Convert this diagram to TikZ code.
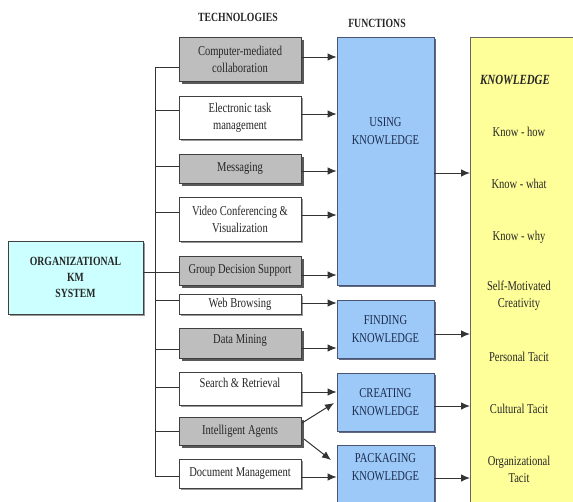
\documentclass[tikz,border=0pt]{standalone}
\usepackage{fontspec}
\setmainfont{Liberation Serif}[FakeStretch=0.78]
\usetikzlibrary{shadows,arrows.meta}
\definecolor{techgray}{HTML}{BEBEBE}
\definecolor{funcblue}{HTML}{9CC9F7}
\definecolor{knowyellow}{HTML}{FFFF99}
\definecolor{orgcyan}{HTML}{CCFFFF}
\definecolor{navytext}{HTML}{1C2B4E}
\definecolor{boxline}{HTML}{404040}
\tikzset{
  base/.style={draw=boxline, line width=0.8pt, align=center, inner sep=1pt,
    font=\fontsize{13.5}{17}\selectfont, text=black!85},
  techg/.style={base, fill=techgray, minimum width=122pt,
    drop shadow={shadow xshift=2.5pt, shadow yshift=-2.5pt, fill=black!65, opacity=1}},
  techw/.style={base, fill=white, minimum width=122pt,
    drop shadow={shadow xshift=1.5pt, shadow yshift=-1.5pt, fill=black!40, opacity=1}},
  func/.style={draw=navytext!80, line width=0.8pt, fill=funcblue, minimum width=97pt,
    drop shadow={shadow xshift=2pt, shadow yshift=-2pt, fill=navytext!70, opacity=1}},
  functext/.style={align=center, text=navytext, font=\fontsize{13.5}{18}\selectfont, inner sep=0pt},
  ktext/.style={align=center, text=black!85, font=\fontsize{13.5}{17}\selectfont, inner sep=0pt},
  head/.style={font=\fontsize{12.5}{15}\bfseries\selectfont, text=black!85, inner sep=0pt},
  conn/.style={draw=black!80, line width=1pt},
  arr/.style={conn, -{Latex[length=9pt,width=7.5pt]}},
}
\begin{document}
\begin{tikzpicture}[x=1pt,y=-1pt]
\useasboundingbox (0,0) rectangle (573,501);
\clip (0,0) rectangle (573,501);
% headers
\node[head] (hT) at (238,17) {TECHNOLOGIES};
\node[head] (hF) at (377,23) {FUNCTIONS};
% organizational box
\node[base, fill=orgcyan, minimum width=135pt, minimum height=73pt,
  font=\fontsize{12.5}{16}\bfseries\selectfont,
  drop shadow={shadow xshift=1.5pt, shadow yshift=-1.5pt, fill=black!40, opacity=1}]
  (org) at (75.5,277.5) {ORGANIZATIONAL\\KM\\SYSTEM};
% technology boxes
\node[techg, minimum height=44pt] (t1) at (240,59) {Computer-mediated\\collaboration};
\node[techw, minimum height=43pt] (t2) at (240,117.5) {Electronic task\\management};
\node[techg, minimum height=29pt] (t3) at (240,168.5) {Messaging};
\node[techw, minimum height=44pt] (t4) at (240,219) {Video Conferencing \&\\Visualization};
\node[techg, minimum height=29pt] (t5) at (240,270.5) {Group Decision Support};
\node[techw, minimum height=20pt] (t6) at (240,304) {Web Browsing};
\node[techg, minimum height=30pt, text depth=8pt] (t7) at (240,343) {Data Mining};
\node[techw, minimum height=33pt, text depth=11pt] (t8) at (240,388.5) {Search \& Retrieval};
\node[techg, minimum height=28pt] (t9) at (240,431) {Intelligent Agents};
\node[techw, minimum height=29pt] (t10) at (240,473.5) {Document Management};
% function boxes
\node[func, minimum height=248pt] (f1) at (385.5,161) {};
\node[functext] (f1t) at (385.5,131) {USING\\KNOWLEDGE};
\node[func, minimum height=58pt, functext] (f2) at (385.5,329) {FINDING\\KNOWLEDGE};
\node[func, minimum height=58pt, functext] (f3) at (385.5,402) {CREATING\\KNOWLEDGE};
\node[func, minimum height=70pt] (f4) at (385.5,480) {};
\node[functext] (f4t) at (385.5,467) {PACKAGING\\KNOWLEDGE};
% knowledge box
\node[draw=black!60, line width=0.8pt, fill=knowyellow, minimum width=120pt, minimum height=480pt, anchor=north west] (K) at (470,37) {};
\node[ktext, font=\fontsize{14}{17}\bfseries\itshape\selectfont] (k0) at (515,80) {KNOWLEDGE};
\node[ktext] (k1) at (519,132) {Know - how};
\node[ktext] (k2) at (519,184) {Know - what};
\node[ktext] (k3) at (519,237) {Know - why};
\node[ktext] (k4) at (519,296) {Self-Motivated\\Creativity};
\node[ktext] (k5) at (519,357) {Personal Tacit};
\node[ktext] (k6) at (519,409) {Cultural Tacit};
\node[ktext] (k7) at (519,469) {Organizational\\Tacit};
% bus
\coordinate (b1) at (155,67);
\coordinate (b2) at (155,110);
\coordinate (b3) at (155,166);
\coordinate (b4) at (155,212);
\coordinate (b5) at (155,272);
\coordinate (b6) at (155,300);
\coordinate (b7) at (155,349);
\coordinate (b8) at (155,387);
\coordinate (b9) at (155,431);
\coordinate (b10) at (155,476);
\draw[conn] (b1) -- (b10);
\draw[conn] (b1) -- (b1 -| t1.west);
\draw[conn] (b2) -- (b2 -| t2.west);
\draw[conn] (b3) -- (b3 -| t3.west);
\draw[conn] (b4) -- (b4 -| t4.west);
\draw[conn] (b5 -| org.east) -- (b5 -| t5.west);
\draw[conn] (b6) -- (b6 -| t6.west);
\draw[conn] (b7) -- (b7 -| t7.west);
\draw[conn] (b8) -- (b8 -| t8.west);
\draw[conn] (b9) -- (b9 -| t9.west);
\draw[conn] (b10) -- (b10 -| t10.west);
% technology -> function arrows
\coordinate (a1) at (0,57);
\coordinate (a2) at (0,114);
\coordinate (a3) at (0,171);
\coordinate (a4) at (0,215);
\coordinate (a5) at (0,275);
\coordinate (a6) at (0,303);
\coordinate (a7) at (0,348);
\coordinate (a8) at (0,392);
\coordinate (a10) at (0,477);
\draw[arr] (a1 -| t1.east) -- (a1 -| f1.west);
\draw[arr] (a2 -| t2.east) -- (a2 -| f1.west);
\draw[arr] (a3 -| t3.east) -- (a3 -| f1.west);
\draw[arr] (a4 -| t4.east) -- (a4 -| f1.west);
\draw[arr] (a5 -| t5.east) -- (a5 -| f1.west);
\draw[arr] (a6 -| t6.east) -- (a6 -| f2.west);
\draw[arr] (a7 -| t7.east) -- (a7 -| f2.west);
\draw[arr] (a8 -| t8.east) -- (a8 -| f3.west);
\coordinate (i1) at (302,423);
\coordinate (i2) at (334,403);
\coordinate (i3) at (304,439);
\coordinate (i4) at (331,460);
\draw[arr] (i1) -- (i2);
\draw[arr] (i3) -- (i4);
\draw[arr] (a10 -| t10.east) -- (a10 -| f4.west);
% function -> knowledge arrows
\coordinate (c1) at (0,173);
\coordinate (c2) at (0,334);
\coordinate (c3) at (0,406);
\coordinate (c4) at (0,478);
\draw[arr] (c1 -| f1.east) -- (c1 -| K.west);
\draw[arr] (c2 -| f2.east) -- (c2 -| K.west);
\draw[arr] (c3 -| f3.east) -- (c3 -| K.west);
\draw[arr] (c4 -| f4.east) -- (c4 -| K.west);
\end{tikzpicture}
\end{document}
